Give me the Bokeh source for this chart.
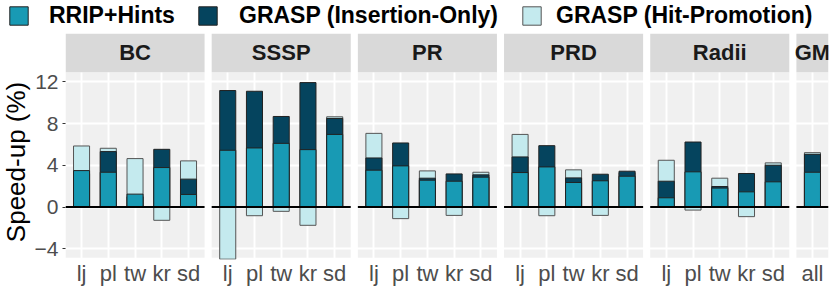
import math
from bokeh.plotting import figure
from bokeh.layouts import column, row
from bokeh.models import (Range1d, FixedTicker, ColumnDataSource, Legend, LegendItem,
                          CustomJSTickFormatter, Label)
from bokeh.core.properties import value
from bokeh.embed import file_html
from bokeh.resources import INLINE

# ---- data ----
panels = ["BC", "SSSP", "PR", "PRD", "Radii", "GM"]
graphs = ["lj", "pl", "tw", "kr", "sd"]
gm_graphs = ["all"]

rrip_hints = [3.50, 3.34, 1.24, 3.79, 1.21,
              5.45, 5.67, 6.11, 5.51, 6.97,
              3.54, 3.95, 2.58, 2.48, 2.87,
              3.31, 3.85, 2.36, 2.52, 2.96,
              0.89, 3.38, 1.82, 1.46, 2.42,
              3.34]
grasp_insertion = [3.20, 5.32, 1.00, 5.54, 2.68,
                   11.18, 11.11, 8.69, 11.94, 8.50,
                   4.71, 6.15, 2.77, 3.18, 3.09,
                   4.81, 5.89, 2.80, 3.15, 3.44,
                   2.48, 6.24, 1.97, 3.22, 4.01,
                   5.06]
grasp_hitpromo = [5.86, 5.64, 4.65, -1.27, 4.43,
                  -5.00, -0.83, -0.41, -1.75, 8.66,
                  7.07, -1.11, 3.47, -0.80, 3.34,
                  6.97, -0.83, 3.57, -0.80, 3.30,
                  4.49, -0.29, 2.77, -0.92, 4.24,
                  5.22]
y_ticks = [-4, 0, 4, 8, 12]

series_names = ["RRIP+Hints", "GRASP (Insertion-Only)", "GRASP (Hit-Promotion)"]
colors = {"RRIP+Hints": "#189AB4", "GRASP (Insertion-Only)": "#05445E",
          "GRASP (Hit-Promotion)": "#C4EAEE"}
outline = {"RRIP+Hints": "#222222", "GRASP (Insertion-Only)": "#222222",
           "GRASP (Hit-Promotion)": "#555555"}

FONT_NAME = "Liberation Sans"
FONT = value(FONT_NAME)

# ---- facet layout: positions derived from category indices ----
PANEL_GAP = 0.466       # extra spacing between facets (in category units)
EXPAND = 0.6            # discrete-scale expansion on each side of a facet
panel_cats = [graphs] * (len(panels) - 1) + [gm_graphs]
stride = len(graphs) + PANEL_GAP
xs, xlabels, panel_centers, panel_widths = [], [], [], []
for i, cats in enumerate(panel_cats):
    for j, g in enumerate(cats):
        xs.append(i * stride + j)
        xlabels.append(g)
    panel_centers.append(i * stride + (len(cats) - 1) / 2)
    panel_widths.append(len(cats) - 1 + 2 * EXPAND)

panel_lo, panel_hi = -4.87, 12.93
strip_hi = 16.65
y_range = Range1d(-5.03, strip_hi)

# ---------------- legend strip (top) ----------------
leg_fig = figure(width=830, height=33, x_range=Range1d(0, 1), y_range=Range1d(0, 1),
                 output_backend="svg", toolbar_location=None,
                 x_axis_location=None, y_axis_location=None,
                 min_border_left=0, min_border_right=0, min_border_top=0, min_border_bottom=0)
leg_fig.grid.visible = False
leg_fig.outline_line_color = None
for name, xpos, standoff in zip(series_names, [7, 196, 520], [19, 20, 13]):
    # legend-key proxy, kept outside the visible range of this strip
    r = leg_fig.vbar(x=[5], top=[5], bottom=[4], width=0.5, fill_color=colors[name],
                     line_color=outline[name], line_width=1)
    leg = Legend(items=[LegendItem(label=name, renderers=[r])],
                 location=(xpos, 4), orientation="horizontal",
                 glyph_width=23, glyph_height=23, label_height=23, label_standoff=standoff,
                 padding=0, margin=0, border_line_color=None, background_fill_alpha=0,
                 label_text_font=FONT_NAME, label_text_font_style="bold",
                 label_text_font_size="23px", label_text_color="black")
    leg_fig.add_layout(leg)

# ---------------- y-axis title column ----------------
ylab_fig = figure(width=31, height=255, x_range=Range1d(0, 31), y_range=y_range,
                  output_backend="svg", toolbar_location=None,
                  x_axis_location=None, y_axis_location=None,
                  min_border_left=0, min_border_right=0, min_border_top=0, min_border_bottom=28)
ylab_fig.grid.visible = False
ylab_fig.outline_line_color = None
ylab_fig.add_layout(Label(x=15.5, y=4.33, text="Speed-up (%)", angle=math.pi / 2,
                          text_align="center", text_baseline="middle",
                          text_font=FONT_NAME, text_font_size="26px", text_color="black"))

# ---------------- main faceted chart ----------------
p = figure(x_range=Range1d(-EXPAND, xs[-1] + EXPAND), y_range=y_range,
           width=799, height=255, output_backend="svg", toolbar_location=None,
           min_border_left=32, min_border_right=2, min_border_top=0, min_border_bottom=28)
p.outline_line_color = None
p.background_fill_color = "white"
p.border_fill_color = "white"

bg = ColumnDataSource(dict(x=panel_centers, w=panel_widths, name=panels))
p.rect(x="x", y=(panel_lo + panel_hi) / 2, width="w", height=panel_hi - panel_lo,
       source=bg, fill_color="#F0F0F0", line_color=None, level="image")

p.ygrid.ticker = FixedTicker(ticks=y_ticks)
p.ygrid.grid_line_color = "white"
p.ygrid.grid_line_width = 2
p.xgrid.ticker = FixedTicker(ticks=xs)
p.xgrid.grid_line_color = "white"
p.xgrid.grid_line_width = 2

# strips
p.rect(x="x", y=(panel_hi + strip_hi) / 2, width="w", height=strip_hi - panel_hi,
       source=bg, fill_color="#D9D9D9", line_color=None)
p.text(x="x", y=(panel_hi + strip_hi) / 2, text="name", source=bg,
       text_align="center", text_baseline="middle", text_font=FONT,
       text_font_style="bold", text_font_size="22px", text_color="#1A1A1A")

# bars (overlaid from zero)
src = ColumnDataSource(dict(x=xs, rrip=rrip_hints, ins=grasp_insertion, hit=grasp_hitpromo))
for col, name in [("hit", series_names[2]), ("ins", series_names[1]), ("rrip", series_names[0])]:
    p.vbar(x="x", top=col, bottom=0, width=0.6, source=src,
           fill_color=colors[name], line_color=outline[name], line_width=1)

# zero line per panel
p.rect(x="x", y=0, width="w", height=2, height_units="screen", source=bg,
       fill_color="black", line_color=None)

# axes
p.yaxis.ticker = FixedTicker(ticks=y_ticks)
p.yaxis.axis_line_color = None
p.yaxis.major_tick_line_color = "#333333"
p.yaxis.major_tick_out = 3
p.yaxis.major_tick_in = 0
p.yaxis.minor_tick_line_color = None
p.yaxis.major_label_text_font = FONT_NAME
p.yaxis.major_label_text_font_size = "21px"
p.yaxis.major_label_text_color = "#4D4D4D"
p.yaxis.major_label_standoff = 4

p.xaxis.ticker = FixedTicker(ticks=xs)
p.xaxis.formatter = CustomJSTickFormatter(
    args=dict(pos=xs, lab=xlabels),
    code="const i = pos.findIndex(v => Math.abs(v - tick) < 1e-6); return i >= 0 ? lab[i] : '';")
p.xaxis.axis_line_color = None
p.xaxis.major_tick_line_color = None
p.xaxis.major_tick_out = 0
p.xaxis.major_tick_in = 0
p.xaxis.minor_tick_line_color = None
p.xaxis.major_label_text_font = FONT_NAME
p.xaxis.major_label_text_font_size = "22px"
p.xaxis.major_label_text_color = "#4D4D4D"
p.xaxis.major_label_standoff = 1

layout = column(leg_fig, row(ylab_fig, p, spacing=0), spacing=0)
open("out.html", "w").write(file_html(layout, INLINE))
